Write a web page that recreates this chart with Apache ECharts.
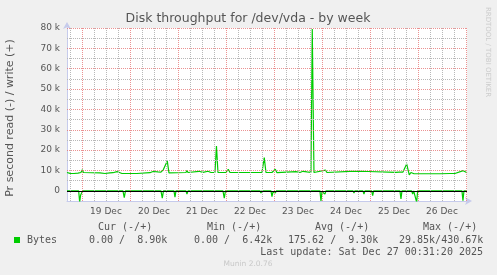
<!DOCTYPE html>
<html><head><meta charset="utf-8">
<script src="https://cdn.jsdelivr.net/npm/echarts@6/dist/echarts.min.js"></script>
<style>html,body{margin:0;padding:0;background:#f0f0f0;}#c{width:497px;height:275px;}</style>
</head><body><div id="c"></div>
<script>
// ---- data (x = hours since 19 Dec 00:00, y = bytes per second) ----
const dayLabels = ['19 Dec','20 Dec','21 Dec','22 Dec','23 Dec','24 Dec','25 Dec','26 Dec'];
const dayLabelHours = [12,36,60,84,108,132,156,180];
const majorXHours = [0,24,48,72,96,120,144,168,192];
const minorXHours = [-6,6,12,18,30,36,42,54,60,66,78,84,90,102,108,114,126,132,138,150,156,162,174,180,186];
const majorY = [0,10000,20000,30000,40000,50000,60000,70000,80000];
const yTickLabels = ['0','10 k','20 k','30 k','40 k','50 k','60 k','70 k','80 k'];
const minorY = [5000,15000,25000,35000,45000,55000,65000,75000];

const writeHours = [-7.5,-7,-6,-5,-4,-3,-2,-1,-0.5,0.15,0.75,9,9.5,11.5,12,14,14.5,15.5,17.5,18.15,18.75,20,27.5,28,34,35.5,38,39,39.5,40.65,41.5,42.65,43.5,52,52.5,53,58.5,60.5,63,64.5,66.5,67.25,68,72,73.15,74,90,91.15,92,95,96.65,97.5,107,109,110.5,112.5,113.5,114.5,115.15,116,121.75,122.5,134,135,139.85,140.5,143,144,157,157.5,158.5,159.5,160.5,161,162.35,163.65,164.5,165.35,166,179,180,184,186.5,187.5,190.65,191.5,192.52];
const writeValues = [9000,9300,8600,9100,8500,9000,8700,9000,9000,10300,9000,8800,8500,8500,8800,8800,9200,8900,9400,10300,9000,8500,8500,8800,8900,9500,9300,9600,9200,10300,9600,14700,8800,9000,10000,9000,9600,9100,9600,9000,9000,22000,9000,9000,10600,9000,9000,16300,9000,9000,10600,8900,9400,9000,9600,9300,9800,9100,79500,9000,10200,9000,9600,9000,9600,9000,9500,9100,9100,9600,9200,9700,9200,9600,13200,7800,9000,9600,8400,8400,8700,8500,8500,8900,9900,9000,8900];

const readHours = [-7.5,-6.15,-5.65,-5.15,-1.65,-1.15,-0.65,-0.15,0.35,15.5,16,16.5,20.5,21.15,21.75,35.5,36,36.5,39.5,40.15,40.75,46,46.5,47,52,52.5,53,64,64.5,65,70.5,71.15,71.75,89,89.5,90,94.5,95,95.5,96.65,97.25,111.5,112,112.5,119,119.5,120,121.5,122,135.5,136,136.5,140.5,141,141.5,144.85,145.35,145.85,159,159.5,160,164.85,165.35,165.85,166.85,167.35,167.85,184,184.5,185,190,190.5,191,192.52];
const readValues = [0,0,-700,0,0,-5500,-2000,-1600,0,0,-600,0,0,-3300,0,0,-500,0,0,-3600,0,0,-3100,0,0,-1600,0,0,-800,0,0,-3600,0,0,-1100,0,0,-2800,-600,-1000,0,0,-600,0,0,-5000,-500,-1600,0,0,-1100,0,0,-1600,0,0,-2300,0,0,-4000,0,0,-1600,0,0,-5600,0,0,-500,0,0,-4800,0,0];

const legendHeaders = ['Cur (-/+)','Min (-/+)','Avg (-/+)','Max (-/+)'];
const legendValues = ['0.00 /  8.90k','0.00 /  6.42k','175.62 /  9.30k','29.85k/430.67k'];
const seriesName = 'Bytes';
const lastUpdate = 'Last update: Sat Dec 27 00:31:20 2025';

// ---- styles ----
const GREEN = '#00cc00';
const MAJ = 'rgba(228,110,110,0.75)';
const MIN = '#b8b8b8';
const AXIS = '#c6cbec';
const TXT = '#555';
const MONO = '10px "DejaVu Sans Mono"';

const gridMarks = [];
minorXHours.forEach(h => gridMarks.push({xAxis: h, lineStyle: {color: MIN, type: 'dotted', width: 1}}));
minorY.forEach(v => gridMarks.push({yAxis: v, lineStyle: {color: MIN, type: 'dotted', width: 1}}));
majorXHours.forEach(h => gridMarks.push({xAxis: h, lineStyle: {color: MAJ, type: 'dotted', width: 1}}));
majorY.forEach(v => gridMarks.push({yAxis: v, lineStyle: {color: MAJ, type: 'dotted', width: 1}}));

const chart = echarts.init(document.getElementById('c'), null, {renderer: 'canvas'});
const headerX = [98, 207, 315, 423];
const valueX = [89, 194, 288, 399];
const graphics = [
  {type:'text', x:248, y:19, style:{text:'Disk throughput for /dev/vda - by week', font:'12.5px "DejaVu Sans"', fill:TXT, align:'center', verticalAlign:'middle'}},
  {type:'text', x:10, y:118, rotation:Math.PI/2, style:{text:'Pr second read (-) / write (+)', font:'11px "DejaVu Sans"', fill:TXT, align:'center', verticalAlign:'middle'}},
  {type:'text', x:488, y:52, rotation:-Math.PI/2, style:{text:'RRDTOOL / TOBI OETIKER', font:'7px "DejaVu Sans"', fill:'#cccccc', align:'center', verticalAlign:'middle'}},
  {type:'rect', shape:{x:14, y:237, width:6, height:6}, style:{fill:GREEN}},
  {type:'text', x:27, y:240, style:{text:seriesName, font:MONO, fill:TXT, verticalAlign:'middle'}},
  {type:'text', x:483, y:252, style:{text:lastUpdate, font:MONO, fill:TXT, align:'right', verticalAlign:'middle'}},
  {type:'text', x:248, y:264, style:{text:'Munin 2.0.76', font:'7.5px "DejaVu Sans"', fill:'#c8c8c8', align:'center', verticalAlign:'middle'}}
];
legendHeaders.forEach((t,i) => graphics.push({type:'text', x:headerX[i], y:227, style:{text:t, font:MONO, fill:TXT, verticalAlign:'middle'}}));
legendValues.forEach((t,i) => graphics.push({type:'text', x:valueX[i], y:240, style:{text:t, font:MONO, fill:TXT, verticalAlign:'middle'}}));

chart.setOption({
  animation: false,
  backgroundColor: '#f0f0f0',
  grid: {left:67, top:28, width:400, height:173, show:true, backgroundColor:'#ffffff', borderWidth:0},
  xAxis: {
    type:'value', min:-7.48, max:192.52,
    axisLine:{show:true, onZero:false, lineStyle:{color:AXIS, width:1}, symbol:['none','arrow'], symbolSize:[6,7], symbolOffset:[0,5]},
    axisTick:{show:false},
    axisLabel:{show:true, customValues: dayLabelHours, margin:6, color:TXT, fontFamily:'DejaVu Sans', fontSize:9,
      formatter: v => dayLabels[dayLabelHours.indexOf(v)] || ''},
    splitLine:{show:false}
  },
  yAxis: {
    type:'value', min:-5000, max:80000,
    axisLine:{show:true, onZero:false, lineStyle:{color:AXIS, width:1}, symbol:['none','arrow'], symbolSize:[6,7], symbolOffset:[0,6]},
    axisTick:{show:false},
    axisLabel:{show:true, customValues: majorY, margin:7, color:TXT, fontFamily:'DejaVu Sans', fontSize:9,
      formatter: v => yTickLabels[majorY.indexOf(v)] || ''},
    splitLine:{show:false}
  },
  graphic: graphics,
  series: [
    {type:'line', data:[], z:1, silent:true,
     markLine:{silent:true, symbol:'none', animation:false, label:{show:false}, data: gridMarks}},
    {type:'line', data:[], z:4, silent:true,
     markLine:{silent:true, symbol:'none', animation:false, label:{show:false},
       data:[{yAxis:0, lineStyle:{color:'#000', type:'solid', width:1}}]}},
    {type:'line', name:'read', z:3, data: readHours.map((h,i)=>[h, readValues[i]]), showSymbol:false, symbol:'none',
     lineStyle:{color:GREEN, width:1.2}},
    {type:'line', name:'write', z:3, data: writeHours.map((h,i)=>[h, writeValues[i]]), showSymbol:false, symbol:'none',
     lineStyle:{color:GREEN, width:1.2}}
  ]
});
</script>
</body></html>
